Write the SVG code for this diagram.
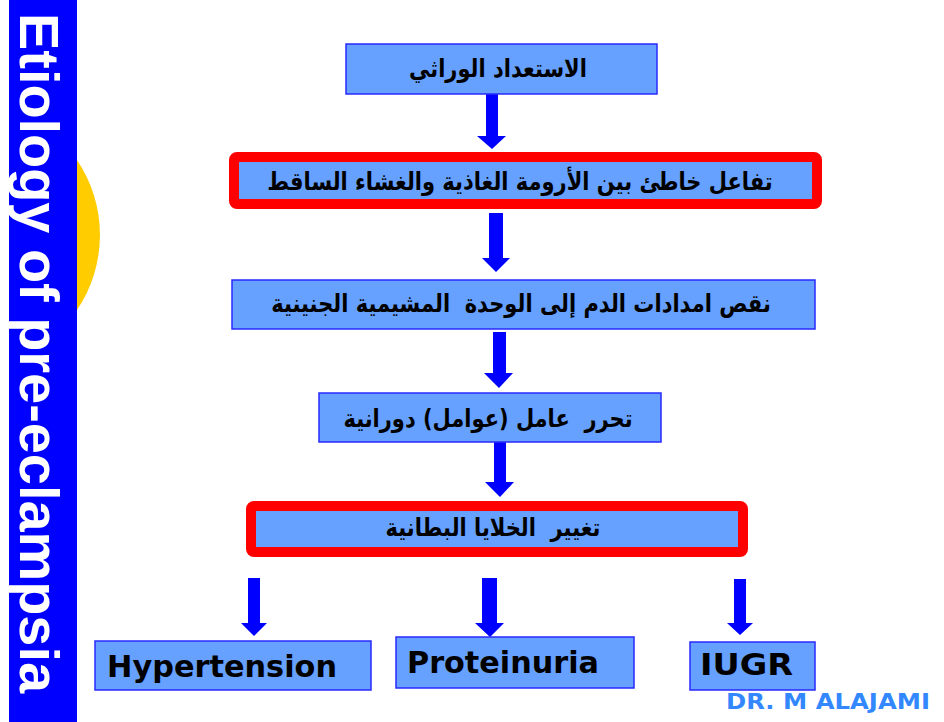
<svg xmlns="http://www.w3.org/2000/svg" width="944" height="722" viewBox="0 0 944 722">
<style>
.box{fill:#66A1FF;stroke:#2A2AFF;stroke-width:1.5}
.rbox{fill:#66A1FF;stroke:#FF0000;stroke-width:10}
.ar{font-family:"DejaVu Sans",sans-serif;font-weight:bold;font-size:21px;fill:#000;text-anchor:middle}
.en{font-family:"DejaVu Sans",sans-serif;font-weight:bold;font-size:31px;fill:#000}
.arrow{fill:#0000FF}
</style>
<rect width="944" height="722" fill="#FFFFFF"/>
<g id="banner">
<path d="M77,160 A134,134 0 0 1 77,310 Z" fill="#FFCC00"/>
<rect x="9" y="0" width="68" height="722" fill="#0000FF"/>
<text transform="translate(20,13) rotate(90)" x="0" y="0" font-family="Liberation Sans, Arial, sans-serif" font-weight="bold" font-size="56" fill="#FFFFFF" textLength="680" lengthAdjust="spacingAndGlyphs">Etiology of pre-eclampsia</text>
</g>
<g id="connectors">
<path class="arrow" d="M486,94 H498 V136 H506 L492,149 L477,136 H486 Z"/>
<path class="arrow" d="M489,213 H503 V258 H510 L496,272 L482,258 H489 Z"/>
<path class="arrow" d="M493,332 H506 V373 H513 L499,388 L484,373 H493 Z"/>
<path class="arrow" d="M494,438 H506 V482 H514 L500,497 L485,482 H494 Z"/>
<path class="arrow" d="M248,578 H260 V623 H267 L254,636 L241,623 H248 Z"/>
<path class="arrow" d="M482,578 H497 V623 H504 L490,637 L475,623 H482 Z"/>
<path class="arrow" d="M734,579 H746 V623 H753 L740,635 L727,623 H734 Z"/>
</g>
<g id="node-genetic">
<rect class="box" x="346" y="44" width="311" height="50"/>
<text class="ar" transform="translate(498,77) scale(1,1.18)" direction="rtl">الاستعداد الوراثي</text>
</g>
<g id="node-interaction">
<rect class="rbox" x="234" y="157" width="583" height="47" rx="3"/>
<text class="ar" transform="translate(520,190) scale(1,1.18)" direction="rtl">تفاعل خاطئ بين الأرومة الغاذية والغشاء الساقط</text>
</g>
<g id="node-perfusion">
<rect class="box" x="232" y="280" width="583" height="49"/>
<text class="ar" transform="translate(521,312) scale(1,1.18)" direction="rtl" xml:space="preserve">نقص امدادات الدم إلى الوحدة  المشيمية الجنينية</text>
</g>
<g id="node-factors">
<rect class="box" x="319" y="393" width="342" height="49"/>
<text class="ar" transform="translate(488,427) scale(1,1.18)" font-size="22.5" direction="rtl" xml:space="preserve">تحرر  عامل (عوامل) دورانية</text>
</g>
<g id="node-endothelium">
<rect class="rbox" x="251" y="506" width="492" height="46" rx="3"/>
<text class="ar" transform="translate(493,536) scale(1,1.18)" font-size="22" direction="rtl" xml:space="preserve">تغيير  الخلايا البطانية</text>
</g>
<g id="node-hypertension">
<rect class="box" x="95" y="641" width="276" height="49"/>
<text class="en" x="107" y="677" textLength="230" lengthAdjust="spacingAndGlyphs">Hypertension</text>
</g>
<g id="node-proteinuria">
<rect class="box" x="396" y="637" width="238" height="51"/>
<text class="en" x="407" y="673" textLength="192" lengthAdjust="spacingAndGlyphs">Proteinuria</text>
</g>
<g id="node-iugr">
<rect class="box" x="690" y="642" width="125" height="48"/>
<text class="en" x="700" y="675" textLength="93" lengthAdjust="spacingAndGlyphs">IUGR</text>
</g>
<text x="726" y="709" font-family="DejaVu Sans, sans-serif" font-weight="bold" font-size="22" fill="#3388FF" textLength="204" lengthAdjust="spacingAndGlyphs">DR. M ALAJAMI</text>
</svg>
